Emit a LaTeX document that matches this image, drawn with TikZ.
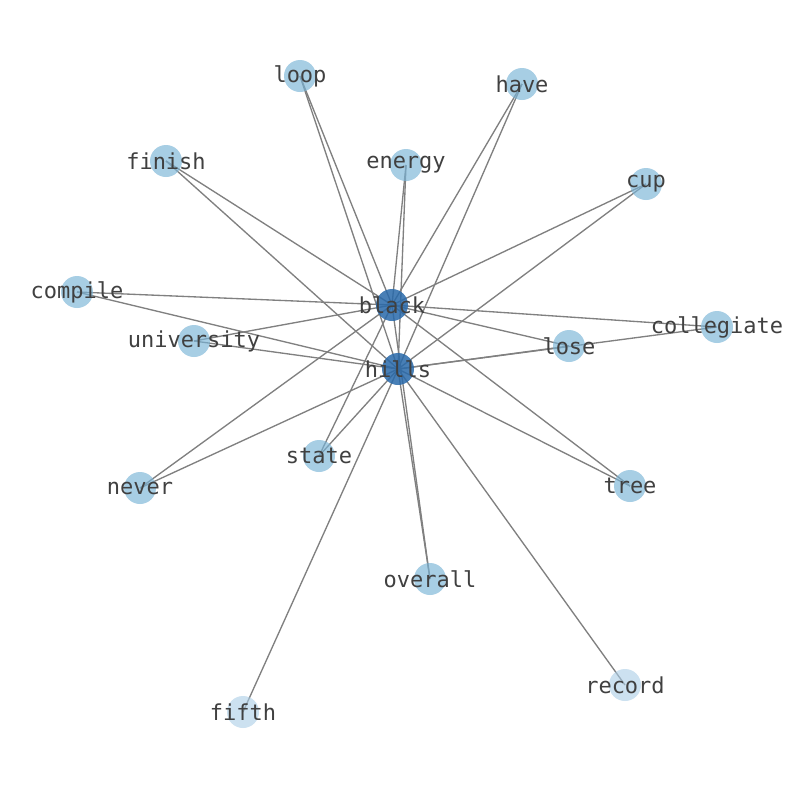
\documentclass[tikz,border=0pt]{standalone}
\usepackage{fontspec}
\setmonofont{DejaVu Sans Mono}
\begin{document}
\begin{tikzpicture}[x=0.75pt,y=-0.75pt,
  vtx/.style={circle,minimum size=24pt,inner sep=0pt,draw=none},
  hub/.style={vtx,fill={rgb,255:red,40;green,105;blue,170},fill opacity=0.85},
  leaf/.style={vtx,fill={rgb,255:red,120;green,180;blue,215},fill opacity=0.65},
  pale/.style={vtx,fill={rgb,255:red,170;green,205;blue,230},fill opacity=0.6},
  lbl/.style={font=\ttfamily\fontsize{16.5pt}{18pt}\selectfont,text={rgb,255:red,64;green,64;blue,64},inner sep=0pt},
  edge/.style={draw={rgb,255:red,128;green,128;blue,128},line width=1pt}]
\useasboundingbox (0,0) rectangle (794,790);
\fill[white] (0,0) rectangle (794,790);
% coordinates
\coordinate (black) at (392,305);
\coordinate (hills) at (398,369);
\coordinate (loop) at (300,76);
\coordinate (have) at (522,84);
\coordinate (finish) at (166,161);
\coordinate (energy) at (406,165);
\coordinate (cup) at (646,184);
\coordinate (compile) at (77,292);
\coordinate (collegiate) at (717,327);
\coordinate (university) at (194,341);
\coordinate (lose) at (569,346);
\coordinate (state) at (319,456);
\coordinate (never) at (140,488);
\coordinate (tree) at (630,486);
\coordinate (overall) at (430,579);
\coordinate (record) at (625,685);
\coordinate (fifth) at (243,712);
% edges
\foreach \n in {loop,have,finish,energy,cup,compile,collegiate,university,lose,state,never,tree,overall}
  \draw[edge] (black) -- (\n);
\foreach \n in {loop,have,finish,energy,cup,compile,collegiate,university,lose,state,never,tree,overall,record,fifth}
  \draw[edge] (hills) -- (\n);
% nodes
\foreach \n in {loop,have,finish,energy,cup,compile,collegiate,university,lose,state,never,tree,overall}
  \node[leaf] (\n-v) at (\n) {};
\foreach \n in {record,fifth}
  \node[pale] (\n-v) at (\n) {};
\foreach \n in {black,hills}
  \node[hub] (\n-v) at (\n) {};
% labels
\foreach \n in {black,hills,loop,have,finish,energy,cup,compile,collegiate,university,lose,state,never,tree,overall,record,fifth}
  \node[lbl] (\n-t) at (\n) {\n};
\end{tikzpicture}
\end{document}
